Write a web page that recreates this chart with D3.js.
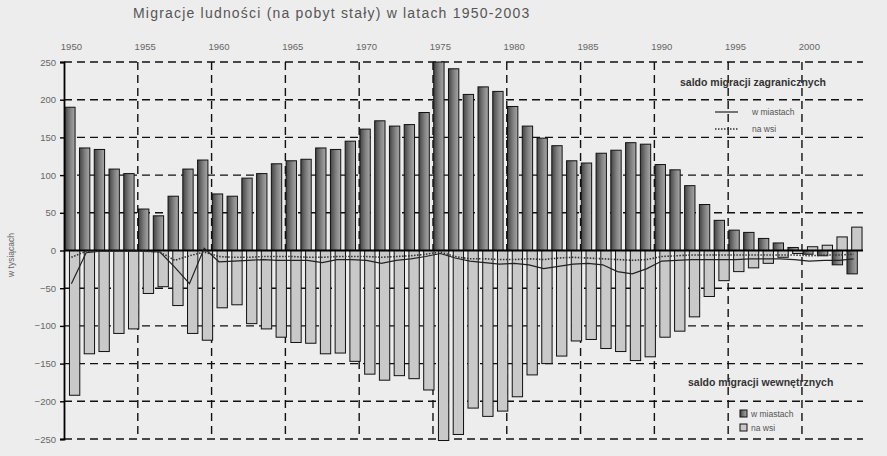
<!DOCTYPE html>
<html>
<head>
<meta charset="utf-8">
<script src="https://cdn.jsdelivr.net/npm/d3@7"></script>
<style>
  body { margin: 0; background: #ededed; }
  svg { display: block; font-family: Arial, "Liberation Sans", sans-serif; }
</style>
</head>
<body>
<svg id="chart"></svg>
<script>
const years = d3.range(1950, 2004);
const yearLabels = [1950, 1955, 1960, 1965, 1970, 1975, 1980, 1985, 1990, 1995, 2000];
const yTicks = [250, 200, 150, 100, 50, 0, -50, -100, -150, -200, -250];

// saldo migracji wewnętrznych (tys.)
const miastaWew = [190, 136, 134, 108, 102, 55, 46, 72, 108, 120,
  75, 72, 96, 102, 115, 119, 121, 136, 134, 145,
  161, 172, 165, 167, 183, 250, 241, 207, 217, 211,
  191, 165, 149, 139, 119, 116, 129, 133, 143, 141,
  114, 107, 86, 61, 40, 27, 24, 16, 10, 4,
  -5, -7, -19, -31];
const wsiWew = [-192, -137, -134, -110, -104, -57, -48, -73, -110, -119,
  -76, -72, -97, -104, -115, -122, -123, -137, -136, -147,
  -164, -172, -166, -170, -185, -252, -244, -209, -220, -213,
  -194, -165, -150, -140, -120, -118, -130, -134, -146, -141,
  -115, -107, -88, -61, -40, -28, -23, -17, -9, -4,
  5, 7, 18, 31];

// saldo migracji zagranicznych (tys.)
const miastaZagr = [-44, -3, -1, -1, -1, -1, -2, -22, -44, 3,
  -15, -14, -13, -12, -13, -13, -13, -16, -12, -12,
  -13, -17, -13, -11, -8, -4, -10, -14, -16, -18,
  -17, -19, -24, -21, -18, -17, -19, -28, -31, -24,
  -14, -13, -12, -12, -12, -12, -11, -11, -11, -12,
  -14, -13, -13, -11];
const wsiZagr = [-9, -1, -1, -1, -1, -1, -2, -13, -7, -2,
  -8, -9, -9, -8, -8, -8, -9, -9, -8, -8,
  -8, -9, -8, -7, -5, -2, -8, -11, -11, -12,
  -12, -11, -12, -10, -9, -10, -11, -12, -13, -12,
  -8, -7, -6, -6, -6, -6, -6, -6, -6, -6,
  -7, -6, -6, -5];

const width = 887, height = 456;
const plotLeft = 64, plotRight = 861, plotTop = 62, plotBottom = 439;

const svg = d3.select('#chart').attr('width', width).attr('height', height);

const defs = svg.append('defs');
const grad = defs.append('linearGradient').attr('id', 'darkBar')
  .attr('x1', '0%').attr('x2', '100%').attr('y1', '0%').attr('y2', '0%');
grad.append('stop').attr('offset', '0%').attr('stop-color', '#444');
grad.append('stop').attr('offset', '55%').attr('stop-color', '#828282');
grad.append('stop').attr('offset', '100%').attr('stop-color', '#a8a8a8');

const x = d3.scaleBand().domain(years).range([plotLeft, plotRight]).padding(0);
const y = d3.scaleLinear().domain([-250, 250]).range([plotBottom, plotTop]);
const bw = x.bandwidth();

// title
svg.append('text')
  .attr('x', 133).attr('y', 18)
  .attr('font-size', 14).attr('letter-spacing', 1.2).attr('fill', '#555')
  .text('Migracje ludności (na pobyt stały) w latach 1950-2003');

// grid
const grid = svg.append('g');
grid.selectAll('line.h')
  .data(yTicks.filter(d => d !== 0))
  .enter().append('line')
  .attr('x1', plotLeft).attr('x2', 863)
  .attr('y1', d => y(d)).attr('y2', d => y(d))
  .attr('stroke', '#111').attr('stroke-width', 1.4)
  .attr('stroke-dasharray', '8,5');
grid.selectAll('line.v')
  .data(yearLabels.slice(1))
  .enter().append('line')
  .attr('x1', d => x(d)).attr('x2', d => x(d))
  .attr('y1', plotTop).attr('y2', plotBottom)
  .attr('stroke', '#111').attr('stroke-width', 1.4)
  .attr('stroke-dasharray', '8,5');

// bars
svg.append('g').selectAll('rect')
  .data(years.map((yr, i) => ({ yr, v: miastaWew[i] })))
  .enter().append('rect')
  .attr('x', d => x(d.yr) + bw * 0.05)
  .attr('width', bw * 0.7)
  .attr('y', d => y(Math.max(0, d.v)))
  .attr('height', d => Math.abs(y(d.v) - y(0)))
  .attr('fill', 'url(#darkBar)')
  .attr('stroke', '#111').attr('stroke-width', 1);

svg.append('g').selectAll('rect')
  .data(years.map((yr, i) => ({ yr, v: wsiWew[i] })))
  .enter().append('rect')
  .attr('x', d => x(d.yr) + bw * 0.37)
  .attr('width', bw * 0.7)
  .attr('y', d => y(Math.max(0, d.v)))
  .attr('height', d => Math.abs(y(d.v) - y(0)))
  .attr('fill', '#c9c9c9')
  .attr('stroke', '#111').attr('stroke-width', 1);

// zero line
svg.append('line')
  .attr('x1', plotLeft).attr('x2', 863)
  .attr('y1', y(0)).attr('y2', y(0))
  .attr('stroke', '#000').attr('stroke-width', 1.8);

// lines
const line = d3.line()
  .x((d, i) => x(years[i]) + bw / 2)
  .y(d => y(d));
svg.append('path').datum(miastaZagr)
  .attr('d', line).attr('fill', 'none')
  .attr('stroke', '#222').attr('stroke-width', 1.2);
svg.append('path').datum(wsiZagr)
  .attr('d', line).attr('fill', 'none')
  .attr('stroke', '#333').attr('stroke-width', 1.6)
  .attr('stroke-dasharray', '1.5,1.5');

// y axis
const yAxis = svg.append('g')
  .attr('transform', `translate(${plotLeft},0)`)
  .call(d3.axisLeft(y).tickValues(yTicks).tickSize(4).tickPadding(4));
yAxis.select('.domain').attr('stroke', '#000').attr('stroke-width', 1.8);
yAxis.selectAll('.tick line').attr('stroke', '#000').attr('stroke-width', 1.4);
yAxis.selectAll('.tick text').attr('font-size', 9.5).attr('fill', '#666')
  .attr('font-family', 'Arial, "Liberation Sans", sans-serif');

// x labels on top
const xAxis = svg.append('g')
  .attr('transform', 'translate(0,50)')
  .call(d3.axisTop(x).tickValues(yearLabels).tickSize(0).tickPadding(0));
xAxis.select('.domain').remove();
xAxis.selectAll('.tick text').attr('font-size', 9.5).attr('fill', '#666')
  .attr('font-family', 'Arial, "Liberation Sans", sans-serif');

// y title
svg.append('text')
  .attr('transform', 'translate(14,255) rotate(-90)')
  .attr('text-anchor', 'middle')
  .attr('font-size', 8.5).attr('fill', '#666')
  .text('w tysiącach');

// legend: foreign migration
svg.append('text')
  .attr('x', 680).attr('y', 86)
  .attr('font-size', 10.5).attr('font-weight', 'bold').attr('fill', '#333')
  .text('saldo migracji zagranicznych');
const lg1 = svg.append('g');
lg1.append('line').attr('x1', 715).attr('x2', 738).attr('y1', 112).attr('y2', 112)
  .attr('stroke', '#222').attr('stroke-width', 1.2);
lg1.append('line').attr('x1', 715).attr('x2', 738).attr('y1', 129).attr('y2', 129)
  .attr('stroke', '#333').attr('stroke-width', 1.6).attr('stroke-dasharray', '1.5,1.5');
lg1.append('text').attr('x', 752).attr('y', 115).attr('font-size', 8.5).attr('fill', '#555').text('w miastach');
lg1.append('text').attr('x', 752).attr('y', 132).attr('font-size', 8.5).attr('fill', '#555').text('na wsi');

// legend: internal migration
svg.append('text')
  .attr('x', 688).attr('y', 386)
  .attr('font-size', 10.5).attr('font-weight', 'bold').attr('fill', '#333')
  .text('saldo migracji wewnętrznych');
const lg2 = svg.append('g');
lg2.append('rect').attr('x', 740).attr('y', 410).attr('width', 7).attr('height', 7)
  .attr('fill', 'url(#darkBar)').attr('stroke', '#111');
lg2.append('rect').attr('x', 740).attr('y', 424).attr('width', 7).attr('height', 7)
  .attr('fill', '#c9c9c9').attr('stroke', '#111');
lg2.append('text').attr('x', 751).attr('y', 417).attr('font-size', 8.5).attr('fill', '#555').text('w miastach');
lg2.append('text').attr('x', 751).attr('y', 431).attr('font-size', 8.5).attr('fill', '#555').text('na wsi');
</script>
</body>
</html>
